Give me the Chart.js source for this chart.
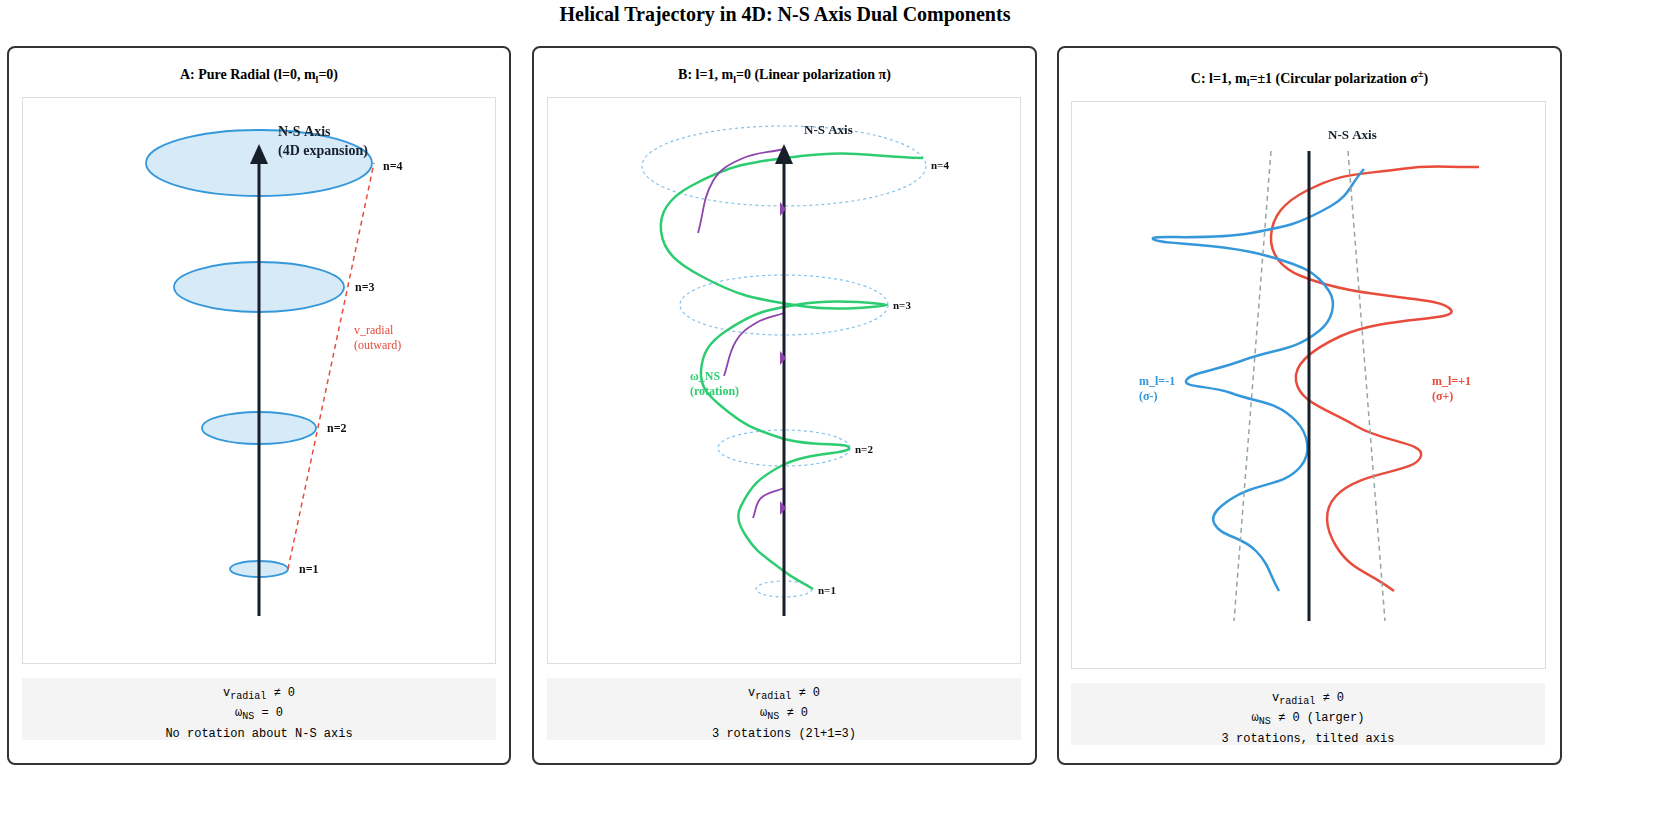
<!DOCTYPE html>
<html>
<head>
<meta charset="utf-8">
<script src="https://cdn.jsdelivr.net/npm/chart.js@4/dist/chart.umd.min.js"></script>
<style>
  body { margin: 0; background: #fff; font-family: "Liberation Serif", serif; width: 1661px; height: 822px; position: relative; overflow: hidden; }
  h1 { position: absolute; top: 3px; left: 0; width: 1570px; text-align: center; font-size: 20px; margin: 0; }
  .panel { position: absolute; top: 46px; height: 719px; width: 500px; border: 2px solid #333; border-radius: 8px; box-sizing: border-box; }
  .ptitle { position: absolute; left: 0; width: 100%; text-align: center; font-weight: bold; font-size: 14px; }
  .box { position: absolute; border: 1px solid #ddd; }
  .info { position: absolute; background: #f4f4f4; font-family: "Liberation Mono", monospace; font-size: 12px; text-align: center; line-height: 16px; padding-top: 7px; box-sizing: border-box; height: 62px; }
  canvas { display: block; }
</style>
</head>
<body>
<h1>Helical Trajectory in 4D: N-S Axis Dual Components</h1>
<div class="panel" style="left:7px;width:504px">
  <div class="ptitle" style="top:19px">A: Pure Radial (l=0, m<sub style="font-size:10px">l</sub>=0)</div>
</div>
<div class="panel" style="left:532px;width:505px">
  <div class="ptitle" style="top:19px">B: l=1, m<sub style="font-size:10px">l</sub>=0 (Linear polarization π)</div>
</div>
<div class="panel" style="left:1057px;width:505px">
  <div class="ptitle" style="top:20px">C: l=1, m<sub style="font-size:10px">l</sub>=±1 (Circular polarization σ<sup style="font-size:10px">±</sup>)</div>
</div>
<div class="box" style="left:22px;top:97px"><canvas id="cA" width="472" height="565"></canvas></div>
<div class="box" style="left:547px;top:97px"><canvas id="cB" width="472" height="565"></canvas></div>
<div class="box" style="left:1071px;top:101px"><canvas id="cC" width="473" height="566"></canvas></div>
<div class="info" style="left:22px;top:678px;width:474px">v<sub>radial</sub> ≠ 0<br>ω<sub>NS</sub> = 0<br>No rotation about N-S axis</div>
<div class="info" style="left:547px;top:678px;width:474px">v<sub>radial</sub> ≠ 0<br>ω<sub>NS</sub> ≠ 0<br>3 rotations (2l+1=3)</div>
<div class="info" style="left:1071px;top:683px;width:474px">v<sub>radial</sub> ≠ 0<br>ω<sub>NS</sub> ≠ 0 (larger)<br>3 rotations, tilted axis</div>
<script>
// all coordinates are page pixels; each chart's scales span its box
var BLUE = '#3498db', RED = '#e74c3c', GREEN = '#2ecc71', PURPLE = '#8e44ad', DARK = '#17202a', GRAY = '#95a5a6';

// Panel A
var aAxis = [{x: 258, y: 615}, {x: 258, y: 160}];
var aShells = [[258, 568, 29, 8], [258, 427, 57, 16], [258, 286, 85, 25], [258, 162, 113, 33]];
var aRadial = [{x: 287, y: 568}, {x: 373, y: 162}];
var aLabels = [['n=1', 298, 569], ['n=2', 326, 428], ['n=3', 354, 287], ['n=4', 382, 166]];

// Panel B
var bAxis = [{x: 783, y: 615}, {x: 783, y: 160}];
var bShells = [[783, 588, 28, 8], [783, 447, 66, 18], [783, 304, 104, 30], [783, 165, 142, 40]];
var bHelix = [{x: 812, y: 588}, {x: 780, y: 568}, {x: 745, y: 535}, {x: 740, y: 505}, {x: 780, y: 465}, {x: 848, y: 447},
  {x: 780, y: 437}, {x: 720, y: 405}, {x: 700, y: 370}, {x: 725, y: 330}, {x: 800, y: 303}, {x: 886, y: 304},
  {x: 800, y: 305}, {x: 700, y: 275}, {x: 660, y: 230}, {x: 690, y: 185}, {x: 800, y: 155}, {x: 922, y: 157}];
var bArcs = [
  [{x: 697, y: 232}, {x: 712, y: 180}, {x: 740, y: 158}, {x: 783, y: 148}],
  [{x: 723, y: 375}, {x: 735, y: 340}, {x: 755, y: 322}, {x: 783, y: 312}],
  [{x: 752, y: 517}, {x: 760, y: 497}, {x: 783, y: 487}]
];
var bMarks = [[779, 208], [779, 357], [779, 507]];
var bLabels = [['n=1', 817, 590], ['n=2', 854, 449], ['n=3', 892, 305], ['n=4', 930, 165]];

// Panel C
var cAxis = [{x: 1308, y: 620}, {x: 1308, y: 150}];
var cTiltL = [{x: 1270, y: 150}, {x: 1233, y: 620}];
var cTiltR = [{x: 1347, y: 150}, {x: 1384, y: 620}];
var cMinus = [{x: 1278, y: 590}, {x: 1255, y: 550}, {x: 1213, y: 522}, {x: 1230, y: 498}, {x: 1300, y: 465}, {x: 1295, y: 420},
  {x: 1230, y: 392}, {x: 1185, y: 380}, {x: 1240, y: 360}, {x: 1318, y: 330}, {x: 1328, y: 290}, {x: 1270, y: 256},
  {x: 1152, y: 238}, {x: 1250, y: 232}, {x: 1330, y: 205}, {x: 1363, y: 168}];
var cPlus = [{x: 1393, y: 590}, {x: 1335, y: 545}, {x: 1335, y: 495}, {x: 1420, y: 455}, {x: 1355, y: 425}, {x: 1295, y: 380},
  {x: 1340, y: 335}, {x: 1450, y: 309}, {x: 1300, y: 275}, {x: 1270, y: 235}, {x: 1305, y: 190}, {x: 1400, y: 168}, {x: 1478, y: 166}];

function line(data, color, width, extra) {
  return Object.assign({data: data, borderColor: color, borderWidth: width, pointRadius: 0, showLine: true, fill: false, tension: 0}, extra || {});
}

var shapes = {
  id: 'shapes',
  beforeDatasetsDraw: function(chart, args, o) { draw(chart, o, false); },
  afterDatasetsDraw: function(chart, args, o) { draw(chart, o, true); }
};
function draw(chart, o, top) {
  var ctx = chart.ctx, sx = chart.scales.x, sy = chart.scales.y;
  var px = function(v) { return sx.getPixelForValue(v); }, py = function(v) { return sy.getPixelForValue(v); };
  ctx.save();
  if (!top) {
    (o.ellipses || []).forEach(function(e) {
      var rx = px(e[0] + e[2]) - px(e[0]), ry = Math.abs(py(e[1] + e[3]) - py(e[1]));
      ctx.beginPath();
      ctx.ellipse(px(e[0]), py(e[1]), rx, ry, 0, 0, Math.PI * 2);
      if (o.ellipseFill) { ctx.fillStyle = o.ellipseFill; ctx.fill(); }
      ctx.setLineDash(o.ellipseDash || []);
      ctx.lineWidth = o.ellipseWidth || 2;
      ctx.strokeStyle = o.ellipseColor;
      ctx.stroke();
    });
    ctx.restore();
    return;
  }
  ctx.setLineDash([]);
  if (o.arrow) {
    var a = o.arrow;
    ctx.fillStyle = DARK;
    ctx.beginPath();
    ctx.moveTo(px(a[0]), py(a[1]));
    ctx.lineTo(px(a[0] - 9), py(a[1] + 20));
    ctx.lineTo(px(a[0] + 9), py(a[1] + 20));
    ctx.fill();
  }
  (o.marks || []).forEach(function(m) {
    ctx.fillStyle = PURPLE;
    ctx.beginPath();
    ctx.moveTo(px(m[0]), py(m[1] - 7));
    ctx.lineTo(px(m[0] + 6), py(m[1]));
    ctx.lineTo(px(m[0]), py(m[1] + 7));
    ctx.fill();
  });
  ctx.textBaseline = 'middle';
  (o.texts || []).forEach(function(t) {
    ctx.font = t[4] || 'bold 12px "Liberation Serif"';
    ctx.fillStyle = t[3] || '#111';
    ctx.fillText(t[0], px(t[1]), py(t[2]));
  });
  ctx.restore();
}

function makeChart(id, x0, x1, y0, y1, datasets, opts) {
  return new Chart(document.getElementById(id), {
    type: 'scatter',
    data: {datasets: datasets},
    options: {
      responsive: false, animation: false, devicePixelRatio: 1,
      layout: {padding: 0},
      scales: {
        x: {type: 'linear', min: x0, max: x1, display: false},
        y: {type: 'linear', min: y0, max: y1, reverse: true, display: false}
      },
      plugins: {legend: {display: false}, tooltip: {enabled: false}, shapes: opts},
      elements: {line: {capBezierPoints: false}},
      clip: false
    },
    plugins: [shapes]
  });
}

makeChart('cA', 22, 494, 97, 662, [
  line(aRadial, RED, 1.5, {borderDash: [5, 4]}),
  line(aAxis, DARK, 3)
], {
  ellipses: aShells, ellipseColor: BLUE, ellipseFill: 'rgba(52,152,219,0.2)', ellipseWidth: 1.8,
  arrow: [258, 143],
  texts: aLabels.map(function(l) { return [l[0], l[1], l[2]]; }).concat([
    ['N-S Axis', 277, 131, DARK, 'bold 14px "Liberation Serif"'],
    ['(4D expansion)', 277, 150, DARK, 'bold 14px "Liberation Serif"'],
    ['v_radial', 353, 330, RED, '12px "Liberation Serif"'],
    ['(outward)', 353, 345, RED, '12px "Liberation Serif"']
  ])
});

makeChart('cB', 547, 1019, 97, 662, [
  line(bAxis, DARK, 3),
  line(bArcs[0], PURPLE, 1.8, {tension: 0.4}),
  line(bArcs[1], PURPLE, 1.8, {tension: 0.4}),
  line(bArcs[2], PURPLE, 1.8, {tension: 0.4}),
  line(bHelix, GREEN, 2.5, {tension: 0.45})
], {
  ellipses: bShells, ellipseColor: '#85c1e9', ellipseDash: [3, 3], ellipseWidth: 1.2,
  arrow: [783, 143], marks: bMarks,
  texts: bLabels.map(function(l) { return [l[0], l[1], l[2], '#111', 'bold 11px "Liberation Serif"']; }).concat([
    ['N-S Axis', 803, 130, DARK, 'bold 13px "Liberation Serif"'],
    ['ω_NS', 689, 376, GREEN, 'bold 12px "Liberation Serif"'],
    ['(rotation)', 689, 391, GREEN, 'bold 12px "Liberation Serif"']
  ])
});

makeChart('cC', 1071, 1544, 101, 667, [
  line(cTiltL, GRAY, 1.5, {borderDash: [5, 4]}),
  line(cTiltR, GRAY, 1.5, {borderDash: [5, 4]}),
  line(cAxis, DARK, 3),
  line(cMinus, BLUE, 2.5, {tension: 0.45}),
  line(cPlus, RED, 2.5, {tension: 0.45})
], {
  texts: [
    ['N-S Axis', 1327, 135, DARK, 'bold 13px "Liberation Serif"'],
    ['m_l=-1', 1138, 381, BLUE, 'bold 12px "Liberation Serif"'],
    ['(σ-)', 1138, 396, BLUE, 'bold 12px "Liberation Serif"'],
    ['m_l=+1', 1431, 381, RED, 'bold 12px "Liberation Serif"'],
    ['(σ+)', 1431, 396, RED, 'bold 12px "Liberation Serif"']
  ]
});
</script>
</body>
</html>
